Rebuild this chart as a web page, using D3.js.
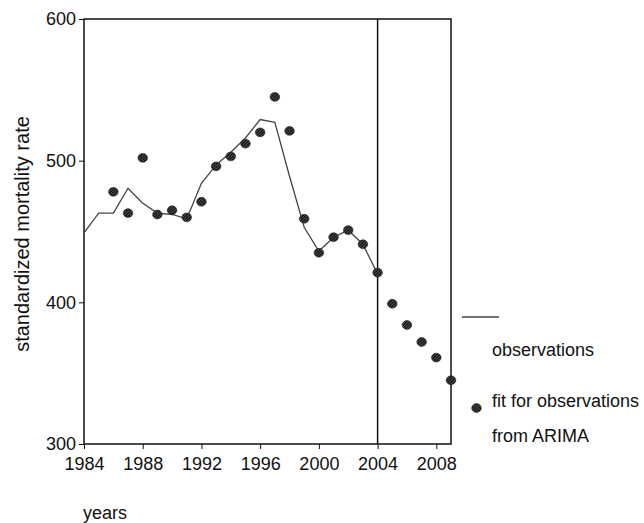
<!DOCTYPE html>
<html>
<head>
<meta charset="utf-8">
<script src="https://cdn.jsdelivr.net/npm/d3@7"></script>
<style>
  body { margin: 0; background: #fff; }
  text { font-family: "Liberation Sans", Arial, sans-serif; fill: #111; }
</style>
</head>
<body>
<div id="chart"></div>
<script>
// observed rates 1984-2004
const obsYears = d3.range(1984, 2005);
const obsValues = [449, 463, 463, 480.5, 470, 463, 462, 459, 484, 497, 506, 516, 529, 527, 489, 453, 436, 446, 451, 441, 420];

// ARIMA fit 1986-2009
const fitYears = d3.range(1986, 2010);
const fitValues = [478, 463, 502, 462, 465, 460, 471, 496, 503, 512, 520, 545, 521, 459, 435, 446, 451, 441, 421, 399, 384, 372, 361, 345];

const xTicks = [1984, 1988, 1992, 1996, 2000, 2004, 2008];
const yTicks = [300, 400, 500, 600];
const cutYear = 2004;

const W = 644, H = 523;
const margin = { left: 84, top: 19 };
const plotW = 367, plotH = 425;

const svg = d3.select('#chart').append('svg')
  .attr('width', W)
  .attr('height', H);

const x = d3.scaleLinear().domain([1984, 2009]).range([0, plotW]);
const y = d3.scaleLinear().domain([300, 600]).range([plotH, 0]);

const g = svg.append('g').attr('transform', `translate(${margin.left},${margin.top})`);

// dot texture
const defs = svg.append('defs');
const pat = defs.append('pattern')
  .attr('id', 'tex')
  .attr('patternUnits', 'userSpaceOnUse')
  .attr('width', 3).attr('height', 3);
pat.append('rect').attr('width', 3).attr('height', 3).attr('fill', '#1e1e1e');
pat.append('path').attr('d', 'M0,3 L3,0').attr('stroke', '#6a6a6a').attr('stroke-width', 0.6);

// axes
const xAxis = g.append('g')
  .attr('transform', `translate(0,${plotH})`)
  .call(d3.axisBottom(x).tickValues(xTicks).tickFormat(d3.format('d')).tickSize(5).tickSizeOuter(0));
xAxis.select('.domain').remove();
xAxis.selectAll('line').attr('stroke', '#111');
xAxis.selectAll('text').style('font-size', '18px').attr('dy', '1.0em');

const yAxis = g.append('g')
  .call(d3.axisLeft(y).tickValues(yTicks).tickSize(5).tickSizeOuter(0));
yAxis.select('.domain').remove();
yAxis.selectAll('line').attr('stroke', '#111');
yAxis.selectAll('text').style('font-size', '18px').attr('x', -8);

// frame
g.append('rect')
  .attr('x', 0).attr('y', 0)
  .attr('width', plotW).attr('height', plotH)
  .attr('fill', 'none')
  .attr('stroke', '#111')
  .attr('stroke-width', 1.5);

// cut line at 2004
g.append('line')
  .attr('x1', x(cutYear)).attr('x2', x(cutYear))
  .attr('y1', 0).attr('y2', plotH)
  .attr('stroke', '#111')
  .attr('stroke-width', 1.5);

// observations line
const line = d3.line()
  .x((d, i) => x(obsYears[i]))
  .y(d => y(d));
g.append('path')
  .datum(obsValues)
  .attr('d', line)
  .attr('fill', 'none')
  .attr('stroke', '#444')
  .attr('stroke-width', 1.3);

// fit dots
g.selectAll('.fit')
  .data(fitValues)
  .enter()
  .append('ellipse')
  .attr('class', 'fit')
  .attr('cx', (d, i) => x(fitYears[i]))
  .attr('cy', d => y(d))
  .attr('rx', 4.8)
  .attr('ry', 4.4)
  .attr('fill', 'url(#tex)')
  .attr('stroke', '#1e1e1e')
  .attr('stroke-width', 0.6);

// legend
const leg = svg.append('g');
leg.append('line')
  .attr('x1', 462).attr('x2', 499)
  .attr('y1', 317).attr('y2', 317)
  .attr('stroke', '#444').attr('stroke-width', 1.3);
leg.append('text').attr('x', 492).attr('y', 356).style('font-size', '18px').text('observations');
leg.append('ellipse')
  .attr('cx', 476.5).attr('cy', 408)
  .attr('rx', 4.8).attr('ry', 4.4)
  .attr('fill', 'url(#tex)')
  .attr('stroke', '#1e1e1e').attr('stroke-width', 0.6);
leg.append('text').attr('x', 492).attr('y', 407).style('font-size', '18px').text('fit for observations');
leg.append('text').attr('x', 492).attr('y', 442).style('font-size', '18px').text('from ARIMA');

// axis titles
svg.append('text')
  .attr('transform', 'translate(29,234) rotate(-90)')
  .attr('text-anchor', 'middle')
  .style('font-size', '20px')
  .text('standardized mortality rate');

svg.append('text')
  .attr('x', 83).attr('y', 519)
  .style('font-size', '18px')
  .text('years');
</script>
</body>
</html>
